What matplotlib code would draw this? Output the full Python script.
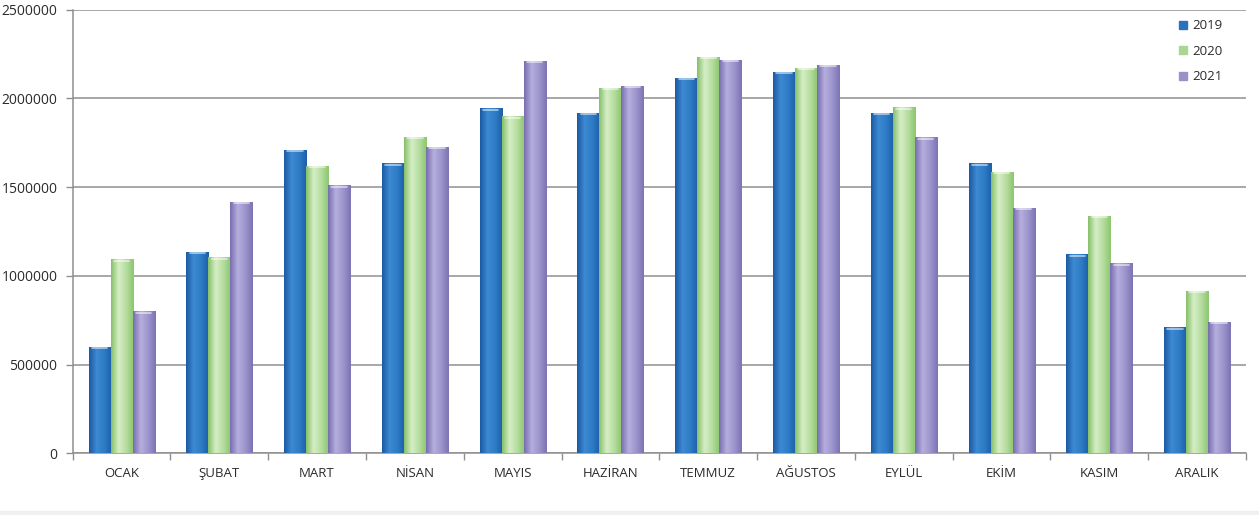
import numpy as np
import matplotlib
matplotlib.use("Agg")
import matplotlib.pyplot as plt
from matplotlib.colors import LinearSegmentedColormap
from matplotlib.lines import Line2D

months = ["OCAK", "ŞUBAT", "MART", "NİSAN", "MAYIS", "HAZİRAN",
          "TEMMUZ", "AĞUSTOS", "EYLÜL", "EKİM", "KASIM", "ARALIK"]
years = ["2019", "2020", "2021"]
v2019 = [600000, 1135000, 1710000, 1635000, 1945000, 1920000,
         2117000, 2150000, 1920000, 1635000, 1122000, 712000]
v2020 = [1095000, 1105000, 1620000, 1785000, 1900000, 2061000,
         2236000, 2174000, 1950000, 1586000, 1338000, 917000]
v2021 = [800000, 1418000, 1512000, 1728000, 2213000, 2072000,
         2217000, 2189000, 1781000, 1385000, 1071000, 742000]
yticks = [0, 500000, 1000000, 1500000, 2000000, 2500000]

series = [v2019, v2020, v2021]
base_cols = ["#2a72bf", "#a9d78f", "#9a91cc"]
grads = [
    ["#1a5aa3", "#3d8ad3", "#2f7cc6", "#1c5ea8"],
    ["#86bf69", "#d6eec7", "#b5dd9f", "#8cc56f"],
    ["#776dae", "#b5aedd", "#9d96cd", "#7c73b3"],
]

plt.rcParams['font.family'] = ['Open Sans', 'DejaVu Sans']

fig = plt.figure(figsize=(12.59, 5.15), dpi=100)
# light band at the bottom of the picture
fig.patches.append(plt.Rectangle((0, 0), 1, 0.007, transform=fig.transFigure,
                                 color="#f0f0f0", zorder=0))
ax = fig.add_axes([0.0577, 0.1198, 0.932, 0.8614])

x = np.arange(len(months))
w = 0.225
offsets = [-w, 0, w]

grad_img = np.linspace(0, 1, 64).reshape(1, -1)
for vals, off, col, g, lab in zip(series, offsets, base_cols, grads, years):
    bars = ax.bar(x + off, vals, width=w, color=col, edgecolor="none",
                  zorder=3, label=lab)
    cmap = LinearSegmentedColormap.from_list("g", g)
    for b in bars:
        x0, y0 = b.get_x(), b.get_y()
        bw, bh = b.get_width(), b.get_height()
        im = ax.imshow(grad_img, cmap=cmap, aspect="auto",
                       extent=(x0, x0 + bw, y0, y0 + bh), zorder=3.5,
                       interpolation="bicubic")
        im.set_clip_path(b)
        # light cap on top
        ax.plot([x0 + bw * 0.15, x0 + bw * 0.85], [y0 + bh - 9000] * 2,
                color="white", alpha=0.6, lw=1.2, zorder=4,
                solid_capstyle="round")
ax.set_xlim(-0.5, len(months) - 0.5)
ax.set_ylim(0, 2500000)

ax.set_yticks(yticks)
ax.set_yticklabels([str(t) for t in yticks], fontsize=10, color="#2b2b2b")
ax.yaxis.grid(True, color="#8f8f8f", lw=1.1, zorder=1)
ax.set_axisbelow(True)

ax.set_xticks(x)
ax.set_xticklabels(months, fontsize=9.5, color="#2b2b2b")
ax.tick_params(axis="x", which="major", length=0, pad=10)
ax.set_xticks(np.arange(-0.5, len(months) + 0.5, 1), minor=True)
ax.tick_params(axis="x", which="minor", length=5, color="#8f8f8f", width=1)
ax.tick_params(axis="y", length=5, color="#8f8f8f", width=1, pad=6)

for s in ["top", "right"]:
    ax.spines[s].set_visible(False)
for s in ["left", "bottom"]:
    ax.spines[s].set_color("#8f8f8f")
    ax.spines[s].set_linewidth(1.1)

handles = [Line2D([0], [0], marker="s", linestyle="none", markersize=6,
                  markerfacecolor=c, markeredgecolor=c) for c in base_cols]
leg = ax.legend(handles, years, loc="upper right", frameon=False,
                fontsize=9.5, bbox_to_anchor=(0.99, 1.005),
                labelspacing=0.95, handletextpad=0.2, handlelength=1.0)
for t in leg.get_texts():
    t.set_color("#2b2b2b")

fig.savefig("out.png", dpi=100)
